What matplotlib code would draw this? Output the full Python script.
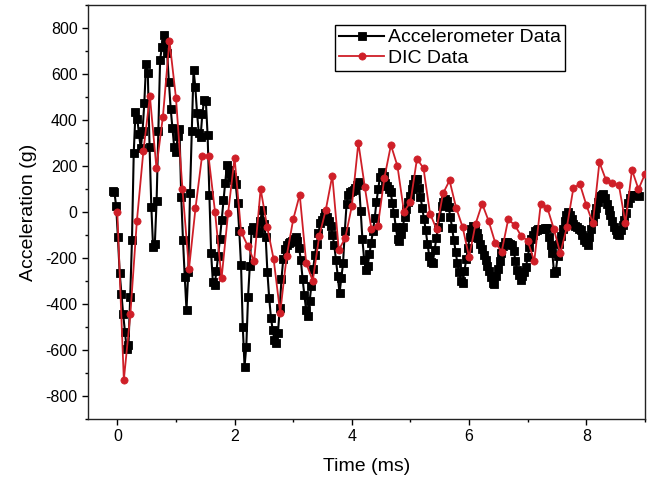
import numpy as np
import matplotlib
matplotlib.use('Agg')
import matplotlib.pyplot as plt
from matplotlib.ticker import MultipleLocator

plt.rcParams['font.family'] = ['Liberation Sans', 'DejaVu Sans']
plt.rcParams['axes.unicode_minus'] = False

# ---- Data ----
# Accelerometer: uniformly sampled, start time and sampling step (ms)
ACC_T0 = -0.08
ACC_DT = 0.03
acc_values = [
    90, 88, 25, -108, -265, -357, -445, -520, -596, -580,
    -368, -122, 256, 434, 406, 339, 277, 351, 472, 642,
    603, 284, 23, -151, -137, 48, 352, 661, 719, 770,
    730, 690, 565, 449, 364, 282, 260, 330, 360, 67,
    -122, -282, -426, -260, 81, 352, 617, 545, 429, 342,
    327, 426, 485, 484, 333, 72, -180, -306, -317, -258,
    -190, -117, -35, 52, 128, 204, 184, 166, 154, 138,
    120, 40, -83, -230, -499, -672, -585, -368, -233, -78,
    -65, -75, -93, -85, -40, 9, -50, -107, -262, -373,
    -459, -513, -556, -571, -527, -416, -291, -204, -161, -145,
    -135, -132, -127, -117, -107, -124, -155, -209, -291, -361,
    -426, -450, -388, -320, -247, -189, -139, -93, -49, -35,
    -20, -6, -22, -38, -61, -98, -144, -209, -278, -354,
    -289, -223, -82, 33, 76, 85, 90, 96, 105, 118,
    132, 6, -117, -209, -252, -233, -184, -134, -83, -26,
    44, 101, 151, 173, 155, 125, 113, 100, 88, 41,
    -6, -67, -117, -126, -97, -64, -20, 13, 42, 71,
    100, 123, 145, 142, 104, 67, 19, -30, -78, -139,
    -190, -219, -220, -167, -114, -64, -20, 24, 45, 58,
    50, 20, -20, -71, -122, -172, -223, -261, -300, -308,
    -257, -206, -156, -110, -76, -59, -71, -93, -115, -138,
    -162, -185, -209, -233, -257, -281, -307, -314, -280, -246,
    -212, -180, -147, -131, -131, -135, -138, -142, -170, -211,
    -252, -274, -296, -280, -263, -238, -194, -151, -116, -100,
    -81, -77, -76, -75, -74, -72, -71, -70, -107, -143,
    -180, -267, -255, -192, -140, -106, -72, -41, -15, -1,
    -12, -31, -51, -61, -67, -72, -78, -100, -122, -132,
    -143, -108, -72, -39, -10, 19, 44, 68, 76, 80,
    63, 36, 9, -15, -40, -64, -80, -96, -100, -79,
    -57, -35, -6, 38, 59, 72, 74, 73, 72, 71,
]

# DIC: one frame every 1/9 ms starting at t = 0
DIC_T0 = 0.0
DIC_DT = 1.0 / 9.0
dic_values = [
    0, -730, -445, -40, 265, 504, 193, 415, 745, 497,
    100, -248, 16, 243, 243, 0, -289, -6, 236, -86,
    -146, -214, 100, -64, -206, -438, -191, -32, 75, -223,
    -299, -104, 9, 158, -165, -112, 26, 301, 107, -74,
    -59, 149, 291, 200, 1, 43, 232, 190, -7, -74,
    81, 137, 19, -65, -196, -51, 36, -39, -133, -172,
    -32, -57, -104, -125, -214, 36, 19, -73, -180, -67,
    103, 122, 30, -49, 216, 140, 126, 116, -49, 183,
    99, 165,
]

series_labels = ['Accelerometer Data', 'DIC Data']
x_label = 'Time (ms)'
y_label = 'Acceleration (g)'

acc_t = ACC_T0 + ACC_DT * np.arange(len(acc_values))
dic_t = DIC_T0 + DIC_DT * np.arange(len(dic_values))

# ---- Figure ----
fig = plt.figure(figsize=(6.53, 4.83), dpi=100)
ax = fig.add_axes([88 / 653, 1 - 419 / 483, 557 / 653, 414 / 483])

ax.plot(acc_t, acc_values, color='black', lw=1.5, marker='s', ms=5.2,
        mfc='black', mec='black', mew=0.6, label=series_labels[0], zorder=2)
ax.plot(dic_t, dic_values, color='#cf1f28', lw=1.3, marker='o', ms=5.2,
        mfc='#cf1f28', mec='#cf1f28', mew=0.5, label=series_labels[1], zorder=3)

ax.set_xlim(-0.5, 9.0)
ax.set_ylim(-900, 900)
ax.xaxis.set_major_locator(MultipleLocator(2))
ax.xaxis.set_minor_locator(MultipleLocator(1))
ax.yaxis.set_major_locator(MultipleLocator(200))
ax.yaxis.set_minor_locator(MultipleLocator(100))

ax.tick_params(which='both', direction='out', top=False, right=False,
               width=1.0, colors='black')
ax.tick_params(which='major', length=4.5, labelsize=11.5, pad=3)
ax.tick_params(which='minor', length=2.5)
for s in ax.spines.values():
    s.set_linewidth(1.0)
    s.set_color('#222222')

ax.set_xlabel(x_label, fontsize=14, labelpad=10)
ax.set_ylabel(y_label, fontsize=14, labelpad=6)

leg = ax.legend(loc='upper right', bbox_to_anchor=(0.856, 0.952),
                borderaxespad=0, fontsize=14, frameon=True, fancybox=False,
                edgecolor='black', framealpha=1, handlelength=2.3,
                handletextpad=0.2, labelspacing=0.15, borderpad=0.2,
                numpoints=1)
leg.get_frame().set_linewidth(1.0)

fig.savefig('out.png', dpi=100)
